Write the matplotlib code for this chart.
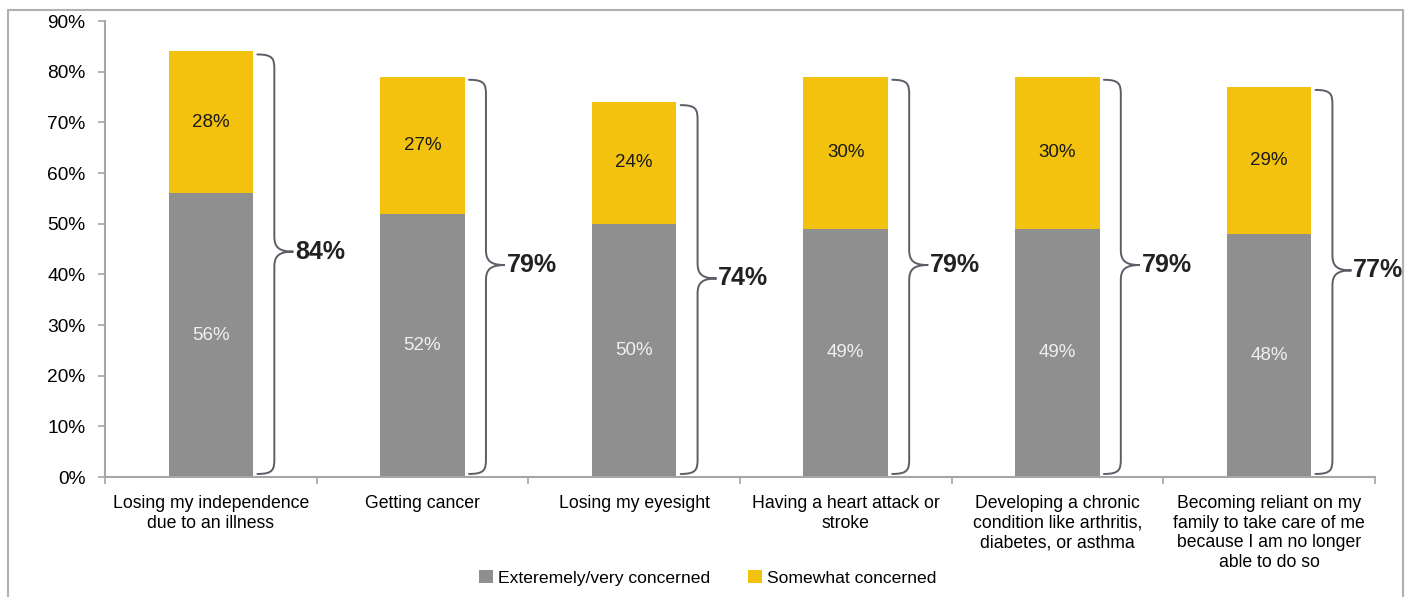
import matplotlib.pyplot as plt
from matplotlib.path import Path
from matplotlib.patches import PathPatch, Rectangle

plt.rcParams['font.family'] = ['Liberation Sans', 'DejaVu Sans']

# concern categories and survey shares (%)
categories = [
    "Losing my independence\ndue to an illness",
    "Getting cancer",
    "Losing my eyesight",
    "Having a heart attack or\nstroke",
    "Developing a chronic\ncondition like arthritis,\ndiabetes, or asthma",
    "Becoming reliant on my\nfamily to take care of me\nbecause I am no longer\nable to do so",
]
very_concerned = [56, 52, 50, 49, 49, 48]
somewhat_concerned = [28, 27, 24, 30, 30, 29]
totals = [84, 79, 74, 79, 79, 77]

GREY = '#8f8f8f'
YELLOW = '#f2c20f'
AXIS = '#a6a6a6'
BRACE = '#5b5e66'


def draw_brace(ax, x0, bottom, top, label):
    # curly brace to the right of a bar, tip pointing right a bit above the middle
    x1 = x0 + 0.08
    x2 = x0 + 0.17
    r = 3.0
    mid = bottom + (top - bottom) * 0.53
    verts = [
        (x0, top),
        (x1 - 0.005, top), (x1, top - r * 0.3), (x1, top - r),
        (x1, mid + r),
        (x1, mid + r * 0.3), (x1 + 0.02, mid), (x2, mid),
        (x1 + 0.02, mid), (x1, mid - r * 0.3), (x1, mid - r),
        (x1, bottom + r),
        (x1, bottom + r * 0.3), (x1 - 0.005, bottom), (x0, bottom),
    ]
    codes = [
        Path.MOVETO, Path.CURVE4, Path.CURVE4, Path.CURVE4,
        Path.LINETO,
        Path.CURVE4, Path.CURVE4, Path.CURVE4,
        Path.CURVE4, Path.CURVE4, Path.CURVE4,
        Path.LINETO,
        Path.CURVE4, Path.CURVE4, Path.CURVE4,
    ]
    ax.add_patch(PathPatch(Path(verts, codes), fill=False, edgecolor=BRACE,
                           linewidth=1.4, capstyle='round'))
    ax.text(x2 + 0.008, mid, label, ha='left', va='center',
            fontsize=18, fontweight='bold', color='#222222')


fig = plt.figure(figsize=(14.1, 5.97), dpi=100)
ax = fig.add_axes([0.0745, 0.201, 0.9005, 0.7638])

x = list(range(len(categories)))
width = 0.4
ax.bar(x, very_concerned, width, color=GREY, label='Exteremely/very concerned')
ax.bar(x, somewhat_concerned, width, bottom=very_concerned, color=YELLOW,
       label='Somewhat concerned')

for i in x:
    ax.text(i, very_concerned[i] / 2, f'{very_concerned[i]}%', ha='center',
            va='center', fontsize=13.5, color='#f0f0f0')
    ax.text(i, very_concerned[i] + somewhat_concerned[i] / 2,
            f'{somewhat_concerned[i]}%', ha='center', va='center',
            fontsize=13.5, color='#1a1a1a')
    draw_brace(ax, i + width / 2 + 0.02, 0.6, totals[i] - 0.6, f'{totals[i]}%')

ax.set_xlim(-0.5, 5.5)
ax.set_ylim(0, 90)
ax.set_yticks(range(0, 91, 10))
ax.set_yticklabels([f'{v}%' for v in range(0, 91, 10)], fontsize=13.8)
ax.set_xticks([i - 0.5 for i in range(len(categories) + 1)])
ax.set_xticklabels([])
ax.set_xticks(x, minor=True)
ax.set_xticklabels(categories, minor=True, fontsize=12.7, linespacing=1.2,
                   va='top', ha='center')
ax.tick_params(axis='x', which='minor', length=0, pad=13)
ax.tick_params(axis='x', which='major', length=5, color=AXIS, width=1.2)
ax.tick_params(axis='y', length=5, color=AXIS, width=1.2, pad=9)

for side in ['top', 'right']:
    ax.spines[side].set_visible(False)
for side in ['left', 'bottom']:
    ax.spines[side].set_color(AXIS)
    ax.spines[side].set_linewidth(1.5)

fig.legend(loc='center', bbox_to_anchor=(0.502, 0.032), ncol=2, frameon=False,
           fontsize=12.6, handlelength=0.75, handleheight=0.75, handletextpad=0.3,
           columnspacing=2.2)

# outer frame around the chart
fig.patches.append(Rectangle((0.0057, -0.1), 0.9895, 1.083, transform=fig.transFigure,
                             fill=False, edgecolor='#b0b0b0', linewidth=1.5))

fig.savefig('out.png', dpi=100)
